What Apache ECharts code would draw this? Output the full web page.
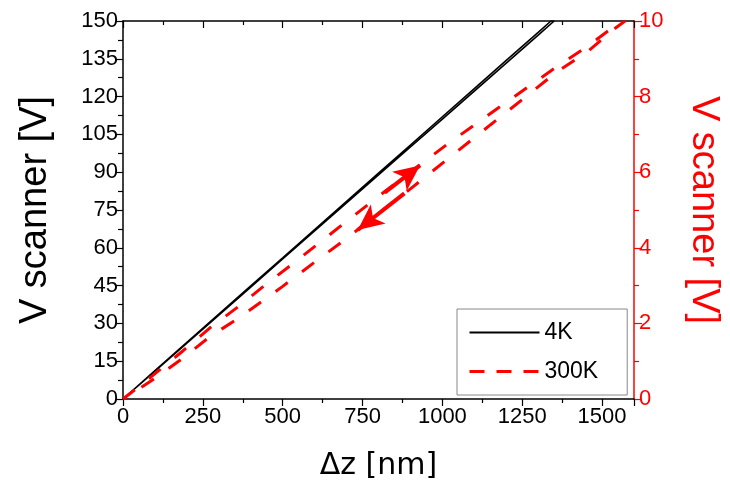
<!DOCTYPE html>
<html>
<head>
<meta charset="utf-8">
<script src="https://cdn.jsdelivr.net/npm/echarts@6/dist/echarts.min.js"></script>
<style>html,body{margin:0;padding:0;background:#fff}#c{width:730px;height:500px}</style>
</head>
<body>
<div id="c"></div>
<script>
// 4K: up branch then down branch (left axis, V)
const k4UpZ = [0, 100, 200, 300, 400, 500, 600, 700, 800, 900, 1000, 1100, 1200, 1300, 1340];
const k4UpV = [0, 11.3, 22.5, 33.7, 44.9, 56.0, 67.2, 78.4, 89.6, 100.8, 112.0, 123.2, 134.4, 145.5, 150];
const k4DownZ = [1350, 1300, 1200, 1100, 1000, 900, 800, 700, 600, 500, 400, 300, 200, 100, 0];
const k4DownV = [150, 144.4, 133.3, 122.2, 111.1, 100.0, 88.9, 77.8, 66.7, 55.6, 44.4, 33.3, 22.2, 11.1, 0];
// 300K: up branch then down branch (right axis, V)
const k300UpZ = [0, 50, 106, 187, 275, 359, 450, 550, 694, 800, 900, 1012, 1100, 1200, 1353, 1456, 1540, 1572];
const k300UpV = [0, 0.33, 0.71, 1.27, 1.90, 2.43, 3.05, 3.70, 4.66, 5.36, 6.00, 6.72, 7.25, 7.85, 8.76, 9.34, 9.87, 10.0];
const k300DownZ = [1572, 1540, 1456, 1353, 1250, 1150, 1012, 900, 800, 694, 600, 500, 359, 275, 187, 106, 50, 0];
const k300DownV = [10.0, 9.80, 9.20, 8.62, 7.92, 7.25, 6.32, 5.56, 4.91, 4.21, 3.62, 2.98, 2.12, 1.67, 1.08, 0.58, 0.27, 0];
// arrows (annotations on the 300K loop): [zStart, vStart, zEnd, vEnd]
const arrowUp = [819, 5.46, 930, 6.18];
const arrowDown = [881, 5.44, 735, 4.47];
const seriesNames = ['4K', '300K'];
const xTitle = 'Δz [nm]';
const yTitle = 'V scanner [V]';

const pairs = (zs, vs) => zs.map((z, i) => [z, vs[i]]);
const k4Data = pairs(k4UpZ, k4UpV).concat(pairs(k4DownZ, k4DownV));
const k300Data = pairs(k300UpZ, k300UpV).concat(pairs(k300DownZ, k300DownV));

const FONT = 'Liberation Sans';
const RED = '#ff0000';
const plain = v => String(v);

const chart = echarts.init(document.getElementById('c'), null, {renderer: 'canvas'});
chart.setOption({
  animation: false,
  backgroundColor: '#fff',
  grid: {left: 123, right: 95, top: 21, bottom: 101, containLabel: false},
  legend: {
    orient: 'vertical', left: 457, top: 309,
    padding: [12, 29, 12, 11],
    itemWidth: 70, itemHeight: 14, itemGap: 16,
    borderColor: '#888', borderWidth: 1, backgroundColor: '#fff',
    textStyle: {fontFamily: FONT, fontSize: 23, color: '#000'},
    data: [
      {name: seriesNames[0], itemStyle: {opacity: 0}, lineStyle: {color: '#000', width: 1.8}},
      {name: seriesNames[1], itemStyle: {opacity: 0}, lineStyle: {color: RED, width: 3, type: [15, 12]}}
    ]
  },
  xAxis: [{
    type: 'value', min: 0, max: 1600, interval: 250, position: 'bottom',
    name: xTitle, nameLocation: 'middle', nameGap: 52,
    nameTextStyle: {fontFamily: 'DejaVu Sans', fontSize: 30, color: '#000'},
    axisLine: {onZero: false, lineStyle: {color: '#000', width: 1.5}},
    axisTick: {inside: false, length: 7, lineStyle: {color: '#000', width: 1.2}},
    minorTick: {show: true, splitNumber: 2, length: 4, lineStyle: {color: '#000', width: 1.2}},
    axisLabel: {fontFamily: FONT, fontSize: 22, color: '#000', margin: 7, showMaxLabel: false, formatter: plain},
    splitLine: {show: false}
  }, {
    type: 'value', min: 0, max: 1600, interval: 250, position: 'top',
    axisLine: {show: true, onZero: false, lineStyle: {color: '#000', width: 1.5}},
    axisTick: {show: true, inside: true, length: 7, lineStyle: {color: '#000', width: 1.2}},
    minorTick: {show: true, splitNumber: 2, length: 4, lineStyle: {color: '#000', width: 1.2}},
    axisLabel: {show: false},
    splitLine: {show: false}
  }],
  yAxis: [{
    type: 'value', min: 0, max: 150, interval: 15, position: 'left',
    name: yTitle, nameLocation: 'middle', nameGap: 68, nameRotate: 90,
    nameTextStyle: {fontFamily: FONT, fontSize: 38, color: '#000'},
    axisLine: {show: true, onZero: false, lineStyle: {color: '#000', width: 1.5}},
    axisTick: {show: true, inside: false, length: 8, lineStyle: {color: '#000', width: 1.2}},
    minorTick: {show: true, splitNumber: 2, length: 5, lineStyle: {color: '#000', width: 1.2}},
    axisLabel: {fontFamily: FONT, fontSize: 22, color: '#000', margin: 5, formatter: plain},
    splitLine: {show: false}
  }, {
    type: 'value', min: 0, max: 10, interval: 2, position: 'right',
    name: yTitle, nameLocation: 'middle', nameGap: 50, nameRotate: -90,
    nameTextStyle: {fontFamily: FONT, fontSize: 38, color: RED},
    axisLine: {show: true, onZero: false, lineStyle: {color: RED, width: 1.5}},
    axisTick: {show: true, inside: false, length: 8, lineStyle: {color: RED, width: 1.2}},
    minorTick: {show: true, splitNumber: 2, length: 5, lineStyle: {color: RED, width: 1.2}},
    axisLabel: {fontFamily: FONT, fontSize: 22, color: RED, margin: 5, formatter: plain},
    splitLine: {show: false}
  }],
  series: [{
    name: seriesNames[0], type: 'line', xAxisIndex: 0, yAxisIndex: 0,
    data: k4Data, showSymbol: false, symbol: 'none',
    lineStyle: {color: '#000', width: 1.6, type: 'solid'},
    itemStyle: {color: '#000'}
  }, {
    name: seriesNames[1], type: 'line', xAxisIndex: 0, yAxisIndex: 1,
    data: k300Data, showSymbol: false, symbol: 'none',
    lineStyle: {color: RED, width: 3, type: [15, 18]},
    itemStyle: {color: RED},
    markLine: {
      silent: true, symbol: ['none', 'arrow'], symbolSize: [18, 26],
      label: {show: false},
      lineStyle: {color: RED, width: 4, type: 'solid'},
      emphasis: {disabled: true},
      data: [
        [{coord: [arrowUp[0], arrowUp[1]]}, {coord: [arrowUp[2], arrowUp[3]]}],
        [{coord: [arrowDown[0], arrowDown[1]]}, {coord: [arrowDown[2], arrowDown[3]]}]
      ]
    }
  }]
});
</script>
</body>
</html>
